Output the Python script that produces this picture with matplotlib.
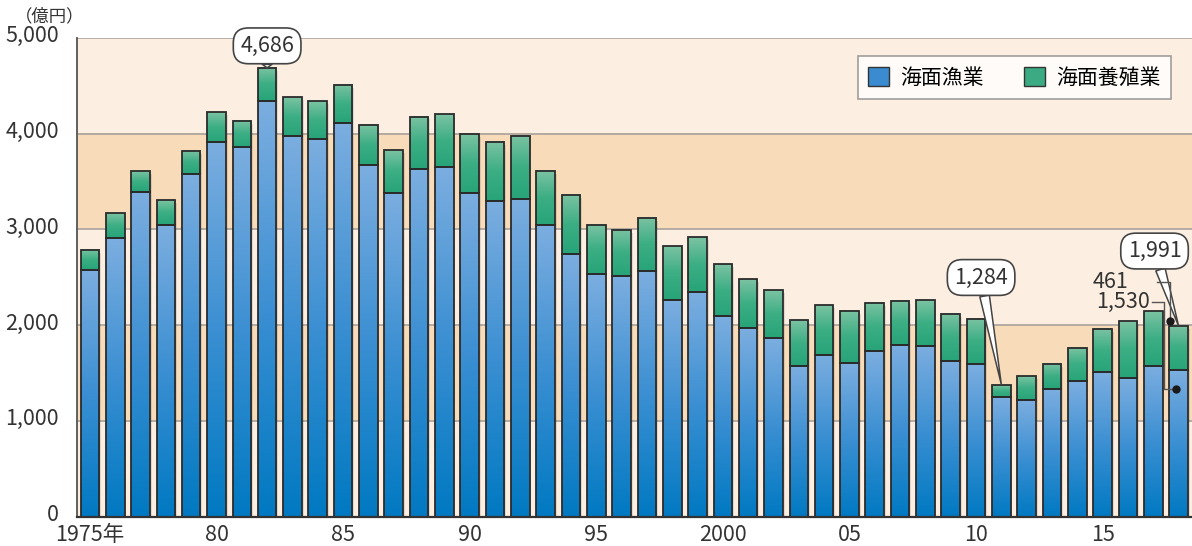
import matplotlib.pyplot as plt
import numpy as np
from matplotlib.colors import LinearSegmentedColormap
from matplotlib.patches import Patch
from matplotlib.transforms import ScaledTranslation

plt.rcParams['font.family'] = ['Noto Sans CJK JP', 'DejaVu Sans']

# 年
years = list(range(1975, 2019))
# 海面漁業 (億円)
fishing = [2570, 2912, 3390, 3048, 3574, 3915, 3856, 4340, 3978, 3943,
           4107, 3668, 3383, 3629, 3654, 3383, 3299, 3316, 3048, 2741,
           2529, 2515, 2563, 2264, 2348, 2097, 1972, 1863, 1578, 1693,
           1606, 1731, 1794, 1787, 1623, 1596, 1254, 1219, 1334, 1414,
           1508, 1449, 1578, 1530]
# 海面養殖業 (億円)
aquaculture = [217, 258, 218, 258, 243, 310, 275, 346, 400, 393,
               397, 418, 448, 548, 550, 609, 616, 662, 564, 616,
               515, 481, 558, 557, 570, 539, 508, 499, 477, 512,
               543, 502, 460, 470, 491, 470, 125, 247, 261, 349,
               449, 589, 567, 461]
xtick_pos = [1975, 1980, 1985, 1990, 1995, 2000, 2005, 2010, 2015]
xtick_labels = ['1975年', '80', '85', '90', '95', '2000', '05', '10', '15']
yticks = [0, 1000, 2000, 3000, 4000, 5000]

light = '#fcefe1'
tan = '#f8dbb9'
w = 0.735

fig = plt.figure(figsize=(11.92, 5.46), dpi=100)
ax = fig.add_axes([77/1192, 29.3/546, 1115/1192, 479/546])

for i, lo in enumerate(range(0, 5000, 1000)):
    ax.axhspan(lo, lo + 1000, color=light if i % 2 == 0 else tan, lw=0, zorder=0)
for y in yticks[1:]:
    ax.axhline(y, color='#a8a29c', lw=1.2, zorder=1)

bcmap = LinearSegmentedColormap.from_list('b', ['#0079c2', '#3b8fd2', '#7caee0'])
gcmap = LinearSegmentedColormap.from_list('g', ['#27a478', '#3cae84', '#7cc3a3'])
grad = np.linspace(0, 1, 256).reshape(-1, 1)

for x, f, a in zip(years, fishing, aquaculture):
    # shadow
    ax.bar(x + 0.07, f + a, w, bottom=-30, color='#000000', alpha=0.10, lw=0, zorder=1.5)
    ax.imshow(grad, extent=[x - w/2, x + w/2, 0, f], cmap=bcmap,
              origin='lower', aspect='auto', zorder=2, interpolation='bilinear')
    ax.imshow(grad, extent=[x - w/2, x + w/2, f, f + a], cmap=gcmap,
              origin='lower', aspect='auto', zorder=2, interpolation='bilinear')

ax.bar(years, fishing, w, fill=False, edgecolor='#2b2b2b', lw=1.3, zorder=3)
ax.bar(years, aquaculture, w, bottom=fishing, fill=False, edgecolor='#2b2b2b', lw=1.3, zorder=3)

ax.set_xlim(1974.49, 2018.53)
ax.set_ylim(0, 5000)

for s in ['top', 'right']:
    ax.spines[s].set_visible(False)
ax.spines['left'].set_color('#555555')
ax.spines['left'].set_linewidth(1.3)
ax.spines['bottom'].set_color('#333333')
ax.spines['bottom'].set_linewidth(1.6)
ax.spines['left'].set_zorder(4)
ax.spines['bottom'].set_zorder(4)

ax.set_yticks(yticks)
ax.set_yticklabels(['{:,}'.format(v) for v in yticks])
ax.set_xticks(xtick_pos)
ax.set_xticklabels(xtick_labels)
ax.tick_params(axis='both', length=0, labelsize=15.5, labelcolor='#333333')
ax.tick_params(axis='y', pad=13)
ax.tick_params(axis='x', pad=5)
up = ScaledTranslation(0, 4/100, fig.dpi_scale_trans)
for lab in ax.get_yticklabels():
    lab.set_transform(lab.get_transform() + up)

fig.text(15/1192, 1 - 16/546, '（億円）', fontsize=12.5, color='#333333', va='center', ha='left')

# legend
handles = [Patch(facecolor='#3a8bd0', edgecolor='#333333', label='海面漁業'),
           Patch(facecolor='#3aab82', edgecolor='#333333', label='海面養殖業')]
leg = ax.legend(handles=handles, loc='upper right', bbox_to_anchor=(0.981, 0.961),
                ncol=2, fontsize=15, frameon=True, fancybox=False,
                handlelength=1.0, handleheight=1.0, handletextpad=0.55,
                columnspacing=1.9, borderpad=0.5, borderaxespad=0)
leg.get_frame().set_edgecolor('#888888')
leg.get_frame().set_linewidth(1.2)
leg.set_zorder(5)

# callouts
box = dict(boxstyle='round,pad=0.32,rounding_size=0.7', fc='white', ec='#444444', lw=1.2)
arrow = dict(arrowstyle='wedge,tail_width=0.45,shrink_factor=0.5', fc='white',
             ec='#444444', lw=1.1, shrinkA=0, shrinkB=0)
totals = [f + a for f, a in zip(fishing, aquaculture)]
i82 = years.index(1982)
ax.annotate('4,686', xy=(1982, totals[i82]), xytext=(1982, 4915), fontsize=15.5,
            color='#333333', ha='center', va='center', bbox=box, arrowprops=arrow,
            annotation_clip=False, zorder=6)
i11 = years.index(2011)
ax.annotate('1,284', xy=(2011, totals[i11]), xytext=(2010.2, 2497), fontsize=15.5,
            color='#333333', ha='center', va='center', bbox=box, arrowprops=arrow,
            zorder=6)
i18 = years.index(2018)
ax.annotate('1,991', xy=(2018, totals[i18]), xytext=(2017.05, 2773), fontsize=15.5,
            color='#333333', ha='center', va='center', bbox=box, arrowprops=arrow,
            zorder=6)

# leader lines for the 2018 breakdown
ax.text(2016.0, 2450, '{:,}'.format(aquaculture[i18]), fontsize=15.5, color='#333333',
        ha='right', va='center', zorder=6)
ax.plot([2017.14, 2017.65, 2017.65], [2450, 2450, 2046], color='#555555', lw=1.0, zorder=6)
ax.plot([2017.68], [2046], 'o', color='#1a1a1a', ms=5, zorder=7)
ax.text(2016.88, 2244, '{:,}'.format(fishing[i18]), fontsize=15.5, color='#333333',
        ha='right', va='center', zorder=6)
ax.plot([2016.95, 2017.43, 2017.43, 2017.85], [2244, 2244, 1330, 1330],
        color='#555555', lw=1.0, zorder=6)
ax.plot([2017.88], [1330], 'o', color='#1a1a1a', ms=5, zorder=7)

fig.savefig('out.png', dpi=100)
